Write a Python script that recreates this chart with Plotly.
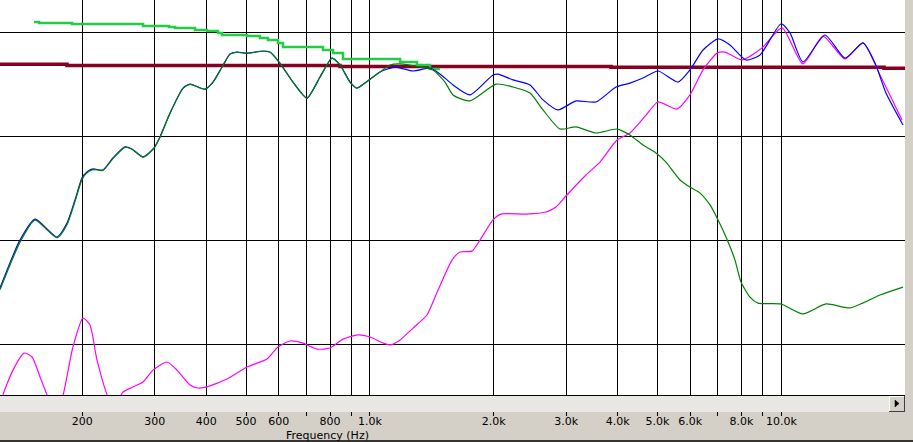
import math
import plotly.graph_objects as go

# ---------------- data (Hz, dB) ----------------
freq_total = [126.2, 141.1, 153.5, 173.6, 183.6, 192.0, 199.7, 205.3, 212.3, 224.5,
              237.4, 254.0, 264.1, 280.9, 298.7, 308.9, 326.7, 351.4, 365.4, 397.4,
              415.6, 437.1, 457.1, 475.4, 502.7, 549.7, 571.6, 604.5, 650.2, 703.1,
              756.4, 808.9, 845.9, 894.6, 930.3, 972.8, 1058, 1151, 1273, 1399,
              1480, 1592, 1751, 1991, 2047, 2227, 2449, 2634, 2864, 3168,
              3543, 3963, 4285, 4609, 5012, 5606, 5995, 6449, 7015, 7499,
              8201, 8871, 9975, 10491, 11282, 12760, 14272, 15786, 16882, 17952, 19745]
spl_total = [82.71, 85.01, 86.02, 85.16, 85.83, 86.94, 88.00, 88.28, 88.43, 88.38,
             88.96, 89.49, 89.39, 89.01, 89.44, 89.97, 91.12, 92.32, 92.51, 92.27,
             92.61, 93.33, 93.96, 94.05, 94.00, 94.10, 94.05, 93.52, 92.61, 91.84,
             92.85, 93.76, 93.43, 92.61, 92.32, 92.56, 93.09, 93.33, 93.14, 93.28,
             93.00, 92.47, 91.99, 92.95, 92.99, 92.71, 92.47, 91.75, 91.27, 91.70,
             91.65, 92.37, 92.56, 92.80, 93.14, 92.61, 93.19, 94.15, 94.68, 94.39,
             93.67, 93.91, 95.40, 94.97, 93.57, 94.87, 93.76, 94.49, 93.52, 92.08, 90.54]

freq_woofer = [126.2, 141.1, 153.5, 173.6, 183.6, 192.0, 199.7, 205.3, 212.3, 224.5,
               237.4, 254.0, 264.1, 280.9, 298.7, 308.9, 326.7, 351.4, 365.4, 397.4,
               415.6, 437.1, 457.1, 475.4, 502.7, 549.7, 571.6, 604.5, 650.2, 703.1,
               756.4, 808.9, 845.9, 894.6, 930.3, 972.8, 1058, 1119, 1184, 1323,
               1423, 1522, 1592, 1751, 2025, 2227, 2449, 2634, 2896, 3168,
               3543, 3986, 4285, 4609, 4956, 5241, 5669, 5995, 6341, 6706,
               7015, 7334, 7712, 7975, 8387, 8771, 9975, 11282, 12832, 14677, 17359, 19745]
spl_woofer = [82.62, 84.90, 85.97, 85.12, 85.75, 86.86, 87.93, 88.24, 88.40, 88.36,
              88.93, 89.47, 89.38, 89.00, 89.42, 89.95, 91.10, 92.30, 92.50, 92.26,
              92.60, 93.32, 93.95, 94.04, 93.99, 94.09, 94.04, 93.51, 92.60, 91.84,
              92.85, 93.76, 93.43, 92.61, 92.32, 92.56, 93.09, 93.43, 93.48, 93.33,
              93.19, 92.61, 91.99, 91.70, 92.51, 92.37, 92.08, 91.27, 90.35, 90.45,
              90.16, 90.35, 90.06, 89.58, 89.20, 88.76, 87.90, 87.56, 87.27, 86.70,
              85.98, 85.16, 84.05, 83.00, 82.27, 81.98, 81.94, 81.46, 81.94, 81.75, 82.37, 82.75]

freq_tweeter = [126.2, 128.3, 135.7, 144.3, 151.0, 157.9, 164.2, 168.8, 174.6, 179.6,
                189.8, 200.8, 208.8, 217.2, 233.5, 244.2, 251.2, 265.6, 280.9, 297.0,
                321.3, 339.8, 365.4, 382.1, 401.8, 449.5, 502.7, 562.3, 597.7, 639.3,
                687.6, 743.6, 799.8, 860.2, 935.5, 1000.4, 1076, 1119, 1184, 1273,
                1376, 1464, 1583, 1655, 1770, 1851, 1991, 2082, 2395, 2679,
                2832, 2995, 3350, 3623, 3986, 4285, 4688, 5012, 5575, 5995,
                6449, 6975, 7294, 8020, 8971, 10032, 11282, 12618, 14272, 15786, 17359, 19635]
spl_tweeter = [76.8, 77.56, 78.76, 79.58, 79.39, 78.43, 77.56, 77.0, 77.0, 77.56,
               79.87, 81.26, 80.93, 79.24, 77.3, 77.3, 77.71, 77.95, 78.19, 78.76,
               79.15, 78.76, 78.04, 77.90, 77.95, 78.33, 78.91, 79.29, 79.87, 80.16,
               80.06, 79.77, 79.82, 80.25, 80.45, 80.35, 80.06, 79.97, 80.21, 80.78,
               81.41, 82.61, 84.05, 84.44, 84.48, 85.01, 85.98, 86.26, 86.26, 86.36,
               86.60, 87.13, 88.14, 88.76, 89.82, 90.16, 91.02, 91.65, 91.31, 91.99,
               93.19, 94.00, 94.05, 93.67, 94.25, 95.21, 93.48, 94.82, 93.72, 94.49, 92.95, 90.78]

freq_max = [152.6, 157.0, 188.8, 280.9, 324.9, 336.0, 375.8, 401.8, 427.4, 437.1,
            502.7, 540.5, 565.3, 597.7, 614.8, 769.2, 813.5, 860.2, 1184, 1301, 1399, 1480]
spl_max = [95.50, 95.45, 95.40, 95.30, 95.26, 95.21, 95.11, 95.06, 94.97, 94.87,
           94.82, 94.73, 94.63, 94.49, 94.29, 94.15, 94.00, 93.72, 93.57, 93.43, 93.23, 93.23]

freq_target = [126.2, 183.6, 845.9, 3854, 17752, 20000]
spl_target = [93.46, 93.41, 93.36, 93.32, 93.27, 93.27]

tick_vals = [200, 300, 400, 500, 600, 700, 800, 900, 1000,
             2000, 3000, 4000, 5000, 6000, 7000, 8000, 9000, 10000]
tick_text = ["200", "300", "400", "500", "600", "", "800", "", "1.0k",
             "2.0k", "3.0k", "4.0k", "5.0k", "6.0k", "", "8.0k", "", "10.0k"]
grid_db = [80, 85, 90, 95]

# ---------------- figure ----------------
W, H = 913, 442
PW, PH = 905, 395
FONT = "DejaVu Sans, Verdana, sans-serif"


def xp(px):
    return px / PW


def yp(py):
    return 1 - py / PH


fig = go.Figure()
fig.add_trace(go.Scatter(x=freq_target, y=spl_target, mode="lines",
                         line=dict(color="#880020", width=3.5, shape="hv")))
fig.add_trace(go.Scatter(x=freq_max, y=spl_max, mode="lines",
                         line=dict(color="#22cc44", width=2.5, shape="hv")))
fig.add_trace(go.Scatter(x=freq_tweeter, y=spl_tweeter, mode="lines",
                         line=dict(color="#ff00ff", width=1.2, shape="spline", smoothing=0.6)))
fig.add_trace(go.Scatter(x=freq_total, y=spl_total, mode="lines",
                         line=dict(color="#0000ff", width=1.2, shape="spline", smoothing=0.6)))
fig.add_trace(go.Scatter(x=freq_woofer, y=spl_woofer, mode="lines",
                         line=dict(color="#008000", width=1.2, shape="spline", smoothing=0.6)))

fig.update_xaxes(type="log", range=[math.log10(126.2), 4.3003],
                 tickvals=tick_vals, ticktext=tick_text,
                 ticks="outside", ticklen=20, tickcolor="black", tickwidth=1,
                 ticklabelstandoff=-4,
                 showgrid=True, gridcolor="black", gridwidth=1,
                 showline=True, linecolor="black", linewidth=1,
                 zeroline=False, automargin=False,
                 tickfont=dict(family=FONT, size=11, color="black"))
fig.update_yaxes(range=[77.563, 96.553], tickvals=grid_db, showticklabels=False,
                 ticks="", showgrid=True, gridcolor="black", gridwidth=1,
                 zeroline=False, automargin=False)

shapes = [
    # scroll strip
    dict(type="rect", xref="paper", yref="paper", x0=xp(0), x1=xp(905), y0=yp(412), y1=yp(396),
         fillcolor="#e9e7e3", line=dict(width=0), layer="above"),
    # scroll button
    dict(type="rect", xref="paper", yref="paper", x0=xp(889), x1=xp(905), y0=yp(412), y1=yp(396),
         fillcolor="#d4d0c8", line=dict(width=0), layer="above"),
    dict(type="line", xref="paper", yref="paper", x0=xp(889.5), x1=xp(904), y0=yp(396.5), y1=yp(396.5),
         line=dict(color="white", width=1), layer="above"),
    dict(type="line", xref="paper", yref="paper", x0=xp(889.5), x1=xp(889.5), y0=yp(396.5), y1=yp(411),
         line=dict(color="white", width=1), layer="above"),
    dict(type="line", xref="paper", yref="paper", x0=xp(889), x1=xp(905), y0=yp(411.5), y1=yp(411.5),
         line=dict(color="#404040", width=1), layer="above"),
    dict(type="line", xref="paper", yref="paper", x0=xp(904.5), x1=xp(904.5), y0=yp(396), y1=yp(412),
         line=dict(color="#404040", width=1), layer="above"),
    dict(type="path", xref="paper", yref="paper",
         path=f"M {xp(895)},{yp(400)} L {xp(899)},{yp(403.5)} L {xp(895)},{yp(407)} Z",
         fillcolor="black", line=dict(color="black", width=0.5), layer="above"),
    # bottom frame line
    dict(type="line", xref="paper", yref="paper", x0=xp(0), x1=xp(913), y0=yp(441), y1=yp(441),
         line=dict(color="black", width=1.5), layer="above"),
]

fig.update_layout(
    width=W, height=H,
    margin=dict(l=0, r=W - PW, t=0, b=H - PH, pad=0, autoexpand=False),
    paper_bgcolor="#d4d0c8", plot_bgcolor="white",
    showlegend=False,
    font=dict(family=FONT, size=11, color="black"),
    shapes=shapes,
    annotations=[dict(text="Frequency (Hz)", xref="paper", yref="paper",
                      x=xp(327), y=yp(435.5), xanchor="center", yanchor="middle",
                      showarrow=False, font=dict(family=FONT, size=11, color="black"))],
)

fig.write_html("out.html", config={"displayModeBar": False},
               post_script="document.body.style.margin='0';document.body.style.padding='0';")
